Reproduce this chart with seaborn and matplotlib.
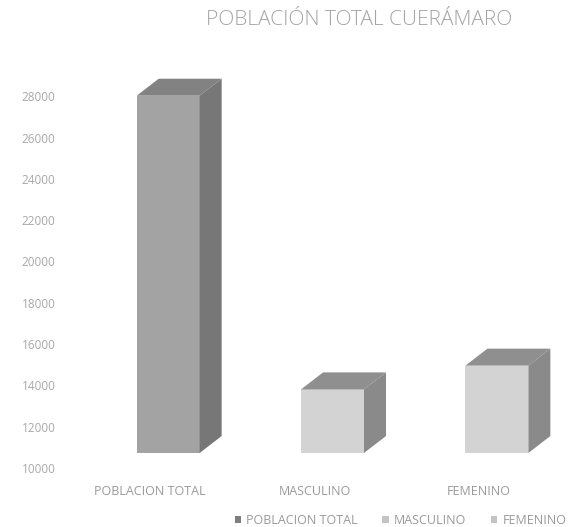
import pandas as pd
import matplotlib.pyplot as plt
import matplotlib.transforms as mtransforms
from matplotlib.patches import Polygon, Patch
import seaborn as sns

# Datos
categorias = ['POBLACION TOTAL', 'MASCULINO', 'FEMENINO']
poblacion = [27300, 13080, 14230]
ticks_y = [10000, 12000, 14000, 16000, 18000, 20000, 22000, 24000, 26000, 28000]
titulo = 'POBLACIÓN TOTAL CUERÁMARO'

# estilo
sns.set_style('white')
plt.rcParams['font.family'] = ['Open Sans', 'DejaVu Sans']

color_frente = ['#a3a3a3', '#d3d3d3', '#d3d3d3']
color_tapa = ['#828282', '#8f8f8f', '#8f8f8f']
color_lado = ['#777777', '#8a8a8a', '#8a8a8a']
color_leyenda = ['#7f7f7f', '#c4c4c4', '#c4c4c4']
gris_texto = '#9a9a9a'

fig = plt.figure(figsize=(5.72, 5.27), dpi=100)
ax = fig.add_axes([0.119, 0.1404, 0.862, 0.725])

df = pd.DataFrame({'categoria': categorias, 'poblacion': poblacion})
sns.barplot(data=df, x='categoria', y='poblacion', hue='categoria',
            palette=color_frente, width=0.383, saturation=1, legend=False,
            linewidth=0, ax=ax)

ax.set_xlim(-0.5, 2.5)
ax.set_ylim(10000, 28500)
ax.set_yticks(ticks_y)
ax.set_yticklabels([str(t) for t in ticks_y])

# efecto 3D: tapa y costado a partir de cada barra
alto_px = ax.get_position().height * fig.get_figheight() * fig.dpi
dy = 17 * (28500 - 10000) / alto_px
dx = 0.134
desplaza = 0.109
for i, p in enumerate(ax.patches[:len(categorias)]):
    p.set_x(p.get_x() + desplaza)
    x0 = p.get_x()
    x1 = x0 + p.get_width()
    y1 = p.get_y() + p.get_height()
    y0 = 10000
    tapa = Polygon([(x0, y1), (x1, y1), (x1 + dx, y1 + dy), (x0 + dx, y1 + dy)],
                   closed=True, facecolor=color_tapa[i], edgecolor='none', clip_on=False)
    lado = Polygon([(x1, y0), (x1 + dx, y0 + dy), (x1 + dx, y1 + dy), (x1, y1)],
                   closed=True, facecolor=color_lado[i], edgecolor='none', clip_on=False)
    ax.add_patch(tapa)
    ax.add_patch(lado)

for s in ax.spines.values():
    s.set_visible(False)
ax.set_xlabel('')
ax.set_ylabel('')
ax.tick_params(axis='y', length=0, pad=9, labelsize=8.5, labelcolor='#a8a8a8')
ax.tick_params(axis='x', length=0, pad=23, labelsize=9, labelcolor=gris_texto)

# etiquetas del eje y desplazadas hacia abajo (como en la vista 3D de Excel)
offset = mtransforms.ScaledTranslation(0, -15 / 100, fig.dpi_scale_trans)
for lbl in ax.get_yticklabels():
    lbl.set_transform(lbl.get_transform() + offset)

fig.text(0.627, 0.962, titulo, ha='center', va='center', fontsize=15,
         color='#a3a3a3', fontweight='light')

handles = [Patch(facecolor=c, edgecolor='none') for c in color_leyenda]
leg = fig.legend(handles, categorias, loc='center left', bbox_to_anchor=(0.41, 0.013),
                 ncol=3, frameon=False, fontsize=9, handlelength=0.5, handleheight=0.5,
                 handletextpad=0.4, columnspacing=2.0, borderpad=0, borderaxespad=0)
for t in leg.get_texts():
    t.set_color(gris_texto)

fig.savefig('out.png', dpi=100)
